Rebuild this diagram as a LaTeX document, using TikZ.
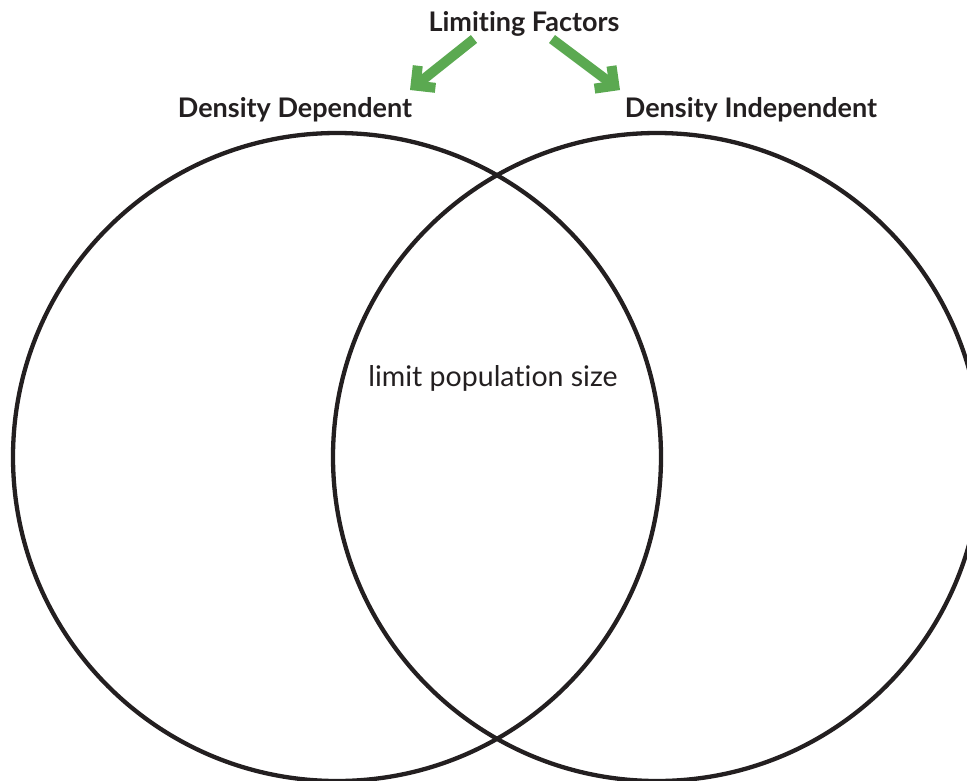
\documentclass[tikz,border=0pt]{standalone}
\usepackage{fontspec}
\setmainfont[Ligatures={NoCommon,NoRequired,NoContextual}]{Lato}
\usetikzlibrary{arrows.meta}
\definecolor{ink}{HTML}{231F20}
\definecolor{leaf}{HTML}{5BA951}
\begin{document}
\begin{tikzpicture}[x=1pt,y=-1pt,
  title/.style={font=\fontsize{27}{30}\selectfont\bfseries, text=ink, anchor=base, inner sep=0pt},
  ring/.style={draw=ink, line width=4.3pt},
  garrow/.style={draw=leaf, line width=10pt, -{Straight Barb[angle=90:20pt, line width=10pt]}}]
\useasboundingbox (0,0) rectangle (967,780);
\draw[ring] (337,457) circle (324);
\draw[ring] (657,457) circle (324);
\node[title] (lf) at (524,31) {Limiting Factors};
\node[title] (dd) at (295,117) {Density Dependent};
\node[title] (di) at (751,117) {Density Independent};
\node[font=\fontsize{28.5}{32}\selectfont, text=ink, anchor=base, inner sep=0pt] (lp) at (493,386) {limit population size};
\coordinate (a1s) at (474,39);
\coordinate (a1e) at (410,90);
\coordinate (a2s) at (552,39);
\coordinate (a2e) at (620,90);
\draw[garrow] (a1s) -- (a1e);
\draw[garrow] (a2s) -- (a2e);
\end{tikzpicture}
\end{document}
